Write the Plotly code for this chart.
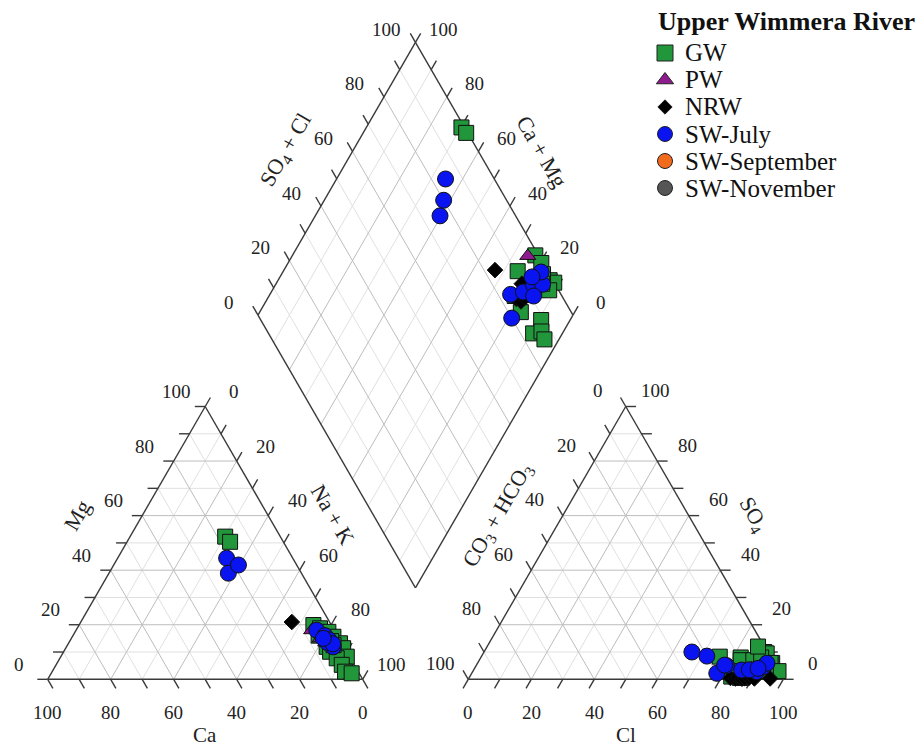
import math
import plotly.graph_objects as go

# ---------------- data: major-ion proportions (% meq/L) ----------------
# cations: Ca, Mg, Na+K      anions: CO3+HCO3, SO4, Cl
gw_ca   = [17.5, 16.9, 5.7, 4.2, 2.2, 1.5, 5.5, 0.6, 0.5, 5.3, 0.9, 4.4, 4.0, 4.2, 2.4, 3.0, 6.0, 3.0]
gw_mg   = [52.3, 50.4, 19.9, 18.7, 17.4, 15.6, 11.9, 13.2, 11.4, 10.1, 8.3, 7.7, 5.3, 2.8, 2.2, 14.0, 16.0, 12.5]
gw_nak  = [30.2, 32.7, 74.4, 77.1, 80.4, 82.9, 82.6, 86.2, 88.1, 84.6, 90.8, 87.9, 90.7, 93.0, 95.4, 83.0, 78.0, 84.5]
gw_hco3 = [1.0, 0.5, 9.5, 1.0, 0.5, 16.0, 10.0, 1.0, 0.0, 6.0, 11.0, 3.0, 16.0, 13.0, 13.5, 2.0, 15.0, 4.0]
gw_so4  = [9.0, 6.0, 8.0, 10.0, 9.5, 8.3, 7.0, 6.0, 3.0, 7.0, 1.5, 8.0, 1.0, 0.5, 0.5, 12.0, 3.0, 3.0]
gw_cl   = [90.0, 93.5, 82.5, 89.0, 90.0, 75.7, 83.0, 93.0, 97.0, 87.0, 87.5, 89.0, 83.0, 86.5, 86.0, 86.0, 82.0, 93.0]

pw_ca   = [7.2, 6.0, 5.0]
pw_mg   = [18.0, 15.0, 13.5]
pw_nak  = [74.8, 79.0, 81.5]
pw_hco3 = [3.5, 8.0, 12.0]
pw_so4  = [6.0, 4.0, 2.0]
pw_cl   = [90.5, 88.0, 86.0]

nrw_ca   = [12.0, 5.0, 4.0, 5.5, 4.5, 5.0, 4.0, 3.5]
nrw_mg   = [21.0, 16.0, 15.0, 15.5, 14.0, 17.0, 13.0, 14.5]
nrw_nak  = [67.0, 79.0, 81.0, 79.0, 81.5, 78.0, 83.0, 82.0]
nrw_hco3 = [16.5, 15.0, 14.0, 13.0, 12.0, 10.5, 9.0, 4.0]
nrw_so4  = [0.5, 0.3, 0.5, 0.2, 0.4, 0.6, 0.3, 0.3]
nrw_cl   = [83.0, 84.7, 85.5, 86.8, 87.6, 88.9, 90.7, 95.7]

swjul_ca   = [21.0, 23.2, 18.5, 4.5, 5.6, 4.0, 3.5, 3.4, 4.5, 3.0, 5.0]
swjul_mg   = [44.4, 38.9, 41.9, 14.4, 18.0, 16.0, 14.5, 11.9, 13.5, 13.0, 15.0]
swjul_nak  = [34.6, 37.9, 39.6, 81.1, 76.4, 80.0, 82.0, 84.7, 82.0, 84.0, 80.0]
swjul_hco3 = [15.5, 20.0, 24.0, 20.0, 16.0, 11.5, 7.0, 4.0, 2.2, 9.0, 6.0]
swjul_so4  = [5.0, 8.5, 10.0, 2.2, 5.2, 3.4, 2.8, 4.6, 5.9, 3.5, 4.0]
swjul_cl   = [79.5, 71.5, 66.0, 77.8, 78.8, 85.1, 90.2, 91.4, 91.9, 87.5, 90.0]

swsep_ca, swsep_mg, swsep_nak, swsep_hco3, swsep_so4, swsep_cl = [], [], [], [], [], []
swnov_ca, swnov_mg, swnov_nak, swnov_hco3, swnov_so4, swnov_cl = [], [], [], [], [], []

series_names = ["GW", "PW", "NRW", "SW-July", "SW-September", "SW-November"]
tick_values = [0, 20, 40, 60, 80, 100]

# ---------------- geometry ----------------
W, H = 922, 749
S = 3.15            # px per percent unit
X0, Y0 = 47.7, 679.3
SQ = math.sqrt(3) / 2
GAP = 33.5
BX, BY = 100 + GAP / 2, GAP * SQ
FONT = "Liberation Serif"
INK = "#3a3a3a"


def px2d(px, py):
    return (px - X0) / S, (Y0 - py) / S


def cat_xy(ca, mg, nak):
    t = ca + mg + nak
    mg, nak = 100 * mg / t, 100 * nak / t
    return nak + 0.5 * mg, SQ * mg


def an_xy(hco3, so4, cl):
    t = hco3 + so4 + cl
    so4, cl = 100 * so4 / t, 100 * cl / t
    return 100 + GAP + cl + 0.5 * so4, SQ * so4


def dia_xy(camg, so4cl):
    a, c = so4cl / 100, camg / 100
    return BX + 50 * (a - c), BY + 100 * SQ * (a + c)


def seg_trace(segs, color, width):
    xs, ys = [], []
    for (x1, y1), (x2, y2) in segs:
        xs += [x1, x2, None]
        ys += [y1, y2, None]
    return go.Scatter(x=xs, y=ys, mode="lines", line=dict(color=color, width=width),
                      hoverinfo="skip", showlegend=False)


fig = go.Figure()

# grid
minor, major = [], []
for k in range(10, 100, 10):
    tgt = major if k % 20 == 0 else minor
    tgt.append((cat_xy(100 - k, k, 0), cat_xy(0, k, 100 - k)))
    tgt.append((cat_xy(k, 0, 100 - k), cat_xy(k, 100 - k, 0)))
    tgt.append((cat_xy(100 - k, 0, k), cat_xy(0, 100 - k, k)))
    tgt.append((an_xy(100 - k, k, 0), an_xy(0, k, 100 - k)))
    tgt.append((an_xy(100 - k, 0, k), an_xy(0, 100 - k, k)))
    tgt.append((an_xy(k, 0, 100 - k), an_xy(k, 100 - k, 0)))
    tgt.append((dia_xy(0, k), dia_xy(100, k)))
    tgt.append((dia_xy(k, 0), dia_xy(k, 100)))
fig.add_trace(seg_trace(minor, "#e0e0e0", 1))
fig.add_trace(seg_trace(major, "#bdbdbd", 1))

# outlines
outl = []
for poly in ([cat_xy(100, 0, 0), cat_xy(0, 0, 100), cat_xy(0, 100, 0)],
             [an_xy(100, 0, 0), an_xy(0, 0, 100), an_xy(0, 100, 0)],
             [dia_xy(0, 0), dia_xy(0, 100), dia_xy(100, 100), dia_xy(100, 0)]):
    for i in range(len(poly)):
        outl.append((poly[i], poly[(i + 1) % len(poly)]))

# ticks
TL = 3.3
ticks = []
for k in range(0, 101, 10):
    for p, d in ((cat_xy(k, 0, 100 - k), (0.5, -SQ)),
                 (cat_xy(100 - k, k, 0), (-1, 0)),
                 (cat_xy(0, 100 - k, k), (0.5, SQ)),
                 (an_xy(100 - k, 0, k), (-0.5, -SQ)),
                 (an_xy(0, k, 100 - k), (1, 0)),
                 (an_xy(k, 100 - k, 0), (-0.5, SQ)),
                 (dia_xy(100, k), (-0.5, SQ)),
                 (dia_xy(k, 100), (0.5, SQ))):
        ticks.append((p, (p[0] + TL * d[0], p[1] + TL * d[1])))
fig.add_trace(seg_trace(outl + ticks, INK, 1.4))

# data markers
styles = {
    "GW": dict(symbol="square", size=15, color="#22963a"),
    "PW": dict(symbol="triangle-up", size=14, color="#8e1c8e"),
    "NRW": dict(symbol="diamond", size=12, color="#000000"),
    "SW-July": dict(symbol="circle", size=16, color="#0a14f0"),
    "SW-September": dict(symbol="circle", size=16, color="#f26b1d"),
    "SW-November": dict(symbol="circle", size=16, color="#555555"),
}
table = {
    "GW": (gw_ca, gw_mg, gw_nak, gw_hco3, gw_so4, gw_cl),
    "PW": (pw_ca, pw_mg, pw_nak, pw_hco3, pw_so4, pw_cl),
    "NRW": (nrw_ca, nrw_mg, nrw_nak, nrw_hco3, nrw_so4, nrw_cl),
    "SW-July": (swjul_ca, swjul_mg, swjul_nak, swjul_hco3, swjul_so4, swjul_cl),
    "SW-September": (swsep_ca, swsep_mg, swsep_nak, swsep_hco3, swsep_so4, swsep_cl),
    "SW-November": (swnov_ca, swnov_mg, swnov_nak, swnov_hco3, swnov_so4, swnov_cl),
}
for name in series_names:
    ca, mg, nak, hco3, so4, cl = table[name]
    xs, ys = [], []
    for i in range(len(ca)):
        for (x, y) in (cat_xy(ca[i], mg[i], nak[i]),
                       an_xy(hco3[i], so4[i], cl[i]),
                       dia_xy(100 * (ca[i] + mg[i]) / (ca[i] + mg[i] + nak[i]),
                              100 * (so4[i] + cl[i]) / (hco3[i] + so4[i] + cl[i]))):
            xs.append(x)
            ys.append(y)
    st = styles[name]
    fig.add_trace(go.Scatter(x=xs, y=ys, mode="markers", name=name, showlegend=False,
                             marker=dict(symbol=st["symbol"], size=st["size"], color=st["color"],
                                         line=dict(color="#111111", width=1))))

# tick labels
ann = []


def lab(p, dxp, dyp, text, size=19, angle=0):
    ann.append(dict(x=p[0] + dxp / S, y=p[1] + dyp / S, text=text, showarrow=False,
                    xref="x", yref="y", textangle=angle,
                    font=dict(family=FONT, size=size, color="#222222")))


for k in tick_values:
    lab(cat_xy(k, 0, 100 - k), 0, -33, str(k))
    lab(cat_xy(100 - k, k, 0), -29, 15, str(k))
    lab(cat_xy(0, 100 - k, k), 29, 15, str(k))
    lab(an_xy(100 - k, 0, k), 0, -33, str(k))
    lab(an_xy(0, k, 100 - k), 30, 16, str(k))
    lab(an_xy(k, 100 - k, 0), -28, 16, str(k))
    lab(dia_xy(100, k), -29, 13, str(k))
    lab(dia_xy(k, 100), 28, 13, str(k))

# axis titles: edge midpoint pushed out along the normal
NT = 56


def mid(p, q):
    return ((p[0] + q[0]) / 2, (p[1] + q[1]) / 2)


lab(mid(cat_xy(100, 0, 0), cat_xy(0, 0, 100)), 0, -56, "Ca", 21)
lab(mid(cat_xy(100, 0, 0), cat_xy(0, 100, 0)), -SQ * NT, 0.5 * NT, "Mg", 22, -60)
lab(mid(cat_xy(0, 100, 0), cat_xy(0, 0, 100)), SQ * NT, 0.5 * NT, "Na + K", 22, 60)
lab(mid(an_xy(100, 0, 0), an_xy(0, 0, 100)), 0, -56, "Cl", 21)
lab(mid(an_xy(100, 0, 0), an_xy(0, 100, 0)), -SQ * NT, 0.5 * NT,
    "CO<sub>3</sub> + HCO<sub>3</sub>", 22, -60)
lab(mid(an_xy(0, 100, 0), an_xy(0, 0, 100)), SQ * 56, 0.5 * 56, "SO<sub>4</sub>", 22, 60)
lab(mid(dia_xy(100, 0), dia_xy(100, 100)), -SQ * 58, 0.5 * 58, "SO<sub>4</sub> + Cl", 22, -60)
lab(mid(dia_xy(100, 100), dia_xy(0, 100)), SQ * 55, 0.5 * 55, "Ca + Mg", 22, 60)

# legend (drawn by hand to match the original spacing)
LEG_X, LEG_Y0, LEG_DY = 665, 53, 27
ann.append(dict(x=656 / W, y=1 - 21 / H, xref="paper", yref="paper", xanchor="left",
                yanchor="middle", showarrow=False, text="<b>Upper Wimmera River</b>",
                font=dict(family=FONT, size=26, color="#111111")))
leg_sizes = {"GW": 16, "PW": 15, "NRW": 11, "SW-July": 15, "SW-September": 15, "SW-November": 15}
for i, name in enumerate(series_names):
    py = LEG_Y0 + LEG_DY * i
    st = styles[name]
    lx, ly = px2d(LEG_X, py)
    fig.add_trace(go.Scatter(x=[lx], y=[ly], mode="markers", showlegend=False, hoverinfo="skip",
                             marker=dict(symbol=st["symbol"], size=leg_sizes[name], color=st["color"],
                                         line=dict(color="#222222", width=1))))
    ann.append(dict(x=683 / W, y=1 - py / H, xref="paper", yref="paper", xanchor="left",
                    yanchor="middle", showarrow=False, text=name,
                    font=dict(family=FONT, size=25, color="#111111")))

fig.update_layout(
    width=W, height=H, margin=dict(l=0, r=0, t=0, b=0),
    paper_bgcolor="white", plot_bgcolor="white", showlegend=False,
    xaxis=dict(visible=False, range=[-X0 / S, (W - X0) / S], fixedrange=True),
    yaxis=dict(visible=False, range=[-(H - Y0) / S, Y0 / S], fixedrange=True),
    annotations=ann,
)
fig.write_html("out.html")
